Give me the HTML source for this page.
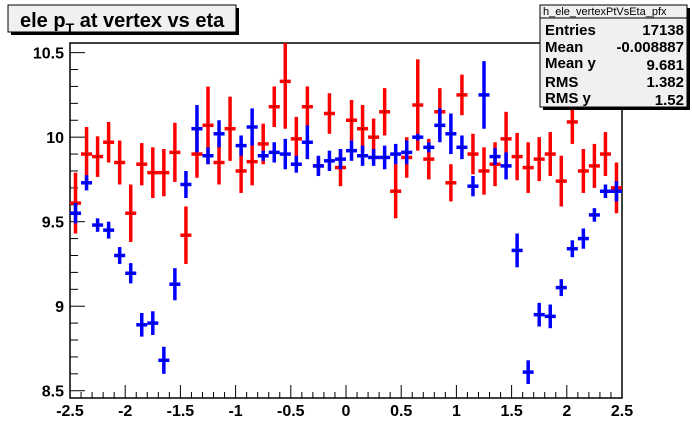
<!DOCTYPE html>
<html><head><meta charset="utf-8"><style>
html,body{margin:0;padding:0;background:#fff;}
svg{display:block;font-family:"Liberation Sans",Arial,sans-serif;}
</style></head><body>
<svg id="c" width="692" height="444" viewBox="0 0 692 444">
  <rect x="0" y="0" width="692" height="444" fill="#ffffff"/>
  <g>
    <rect x="11" y="8" width="228" height="27" fill="#000"/>
    <rect x="8" y="5" width="228" height="27" fill="#f0f0f0" stroke="#000" stroke-width="1"/>
    <text x="20" y="27" font-size="20" font-weight="bold">ele p<tspan font-size="14" dy="6">T</tspan><tspan dy="-6"> at vertex vs eta</tspan></text>
  </g>
  <g id="plot"></g>
  <g>
    <rect x="543" y="8" width="147" height="102" fill="#000"/>
    <rect x="540" y="5" width="147" height="102" fill="#f0f0f0" stroke="#000" stroke-width="1"/>
    <line x1="540" y1="18" x2="687" y2="18" stroke="#000"/>
    <text x="543" y="15" font-size="11">h_ele_vertexPtVsEta_pfx</text>
    <g font-size="15" font-weight="bold">
      <text x="545" y="35">Entries</text><text x="684" y="35" text-anchor="end">17138</text>
      <text x="545" y="52">Mean</text><text x="684" y="52" text-anchor="end">-0.008887</text>
      <text x="545" y="68">Mean y</text><text x="684" y="70" text-anchor="end">9.681</text>
      <text x="545" y="87">RMS</text><text x="684" y="87" text-anchor="end">1.382</text>
      <text x="545" y="103">RMS y</text><text x="684" y="105" text-anchor="end">1.52</text>
    </g>
  </g>
</svg>
<script>
const etaCenters = [-2.45,-2.35,-2.25,-2.15,-2.05,-1.95,-1.85,-1.75,-1.65,-1.55,-1.45,-1.35,-1.25,-1.15,-1.05,-0.95,-0.85,-0.75,-0.65,-0.55,-0.45,-0.35,-0.25,-0.15,-0.05,0.05,0.15,0.25,0.35,0.45,0.55,0.65,0.75,0.85,0.95,1.05,1.15,1.25,1.35,1.45,1.55,1.65,1.75,1.85,1.95,2.05,2.15,2.25,2.35,2.45];
const redValues = [9.61,9.90,9.885,9.97,9.85,9.55,9.84,9.79,9.79,9.91,9.42,9.90,10.07,9.85,10.05,9.80,9.855,9.96,10.18,10.33,9.99,10.18,9.83,10.14,9.82,10.10,10.05,10.00,10.15,9.68,9.88,10.19,9.87,10.15,9.73,10.25,9.90,9.80,9.84,9.99,9.885,9.82,9.87,9.90,9.74,10.09,9.80,9.83,9.90,9.70];
const redErrors = [0.18,0.16,0.12,0.12,0.13,0.17,0.125,0.15,0.14,0.175,0.17,0.14,0.23,0.13,0.19,0.13,0.14,0.12,0.12,0.28,0.13,0.12,0.05,0.12,0.11,0.12,0.14,0.11,0.14,0.16,0.12,0.27,0.12,0.14,0.11,0.12,0.12,0.14,0.13,0.16,0.14,0.15,0.13,0.13,0.15,0.13,0.13,0.13,0.13,0.15];
const blueValues = [9.55,9.73,9.48,9.45,9.30,9.195,8.89,8.90,8.68,9.13,9.72,10.05,9.89,10.02,null,9.95,10.06,9.89,9.91,9.90,9.84,9.97,9.83,9.86,9.87,9.92,9.89,9.88,9.88,9.90,9.91,10.00,9.94,10.07,10.02,9.94,9.71,10.25,9.885,9.83,9.33,8.61,8.95,8.94,9.11,9.34,9.40,9.54,9.68,9.68];
const blueErrors = [0.06,0.045,0.04,0.05,0.05,0.06,0.07,0.07,0.08,0.095,0.08,0.14,0.05,0.08,0,0.06,0.11,0.03,0.06,0.09,0.05,0.1,0.06,0.06,0.06,0.06,0.06,0.05,0.07,0.06,0.07,0.02,0.03,0.1,0.12,0.07,0.06,0.2,0.05,0.08,0.1,0.07,0.07,0.07,0.05,0.05,0.06,0.04,0.04,0.06];
const xTickLabels = ["-2.5","-2","-1.5","-1","-0.5","0","0.5","1","1.5","2","2.5"];
const yTickLabels = ["8.5","9","9.5","10","10.5"];

const X0=70,X1=622,Y0=398,Y1=43, XMIN=-2.5,XMAX=2.5, YMIN=8.457, YMAX=10.557;
const binWidth=0.1;
function xs(v){return X0+(v-XMIN)/(XMAX-XMIN)*(X1-X0);}
function ys(v){return Y0-(v-YMIN)/(YMAX-YMIN)*(Y0-Y1);}
const NS="http://www.w3.org/2000/svg";
const plot=document.getElementById('plot');
function mk(tag,attrs,parent){const e=document.createElementNS(NS,tag);for(const k in attrs)e.setAttribute(k,attrs[k]);(parent||plot).appendChild(e);return e;}

const frame=mk('rect',{x:X0,y:Y1,width:X1-X0,height:Y0-Y1,fill:'#fff',stroke:'#000','stroke-width':1.5});



const axes=mk('g',{stroke:'#000','stroke-width':1});


for(let v=-2.5;v<=2.5001;v+=0.1){
  const major=Math.abs(v*2-Math.round(v*2))<1e-6;
  const x=xs(v);
  mk('line',{x1:x,y1:Y0,x2:x,y2:Y0-(major?13:6)},axes);
}
for(let v=8.5;v<=10.5001;v+=0.1){
  const major=Math.abs(v*2-Math.round(v*2))<1e-6;
  const y=ys(v);
  mk('line',{x1:X0,y1:y,x2:X0+(major?15:8),y2:y},axes);
}
xTickLabels.forEach(function(t){
  const tx=mk('text',{x:xs(parseFloat(t)),y:416,'text-anchor':'middle','font-size':16,'font-weight':'bold'});
  tx.textContent=t;
  
  
});
yTickLabels.forEach(function(t){
  const tx=mk('text',{x:64,y:ys(parseFloat(t))+6,'text-anchor':'end','font-size':16,'font-weight':'bold'});
  tx.textContent=t;
  
  
});

function drawSeries(vals,errs,color,name){
  const g=mk('g',{stroke:color,'stroke-width':3.5});
  
  
  etaCenters.forEach(function(c,i){
    const v=vals[i]; if(v===null||v===undefined) return;
    const e=errs[i]||0;
    const pg=mk('g',{},g);
    
    
    const x=xs(c), y=ys(v);
    mk('line',{x1:xs(c-binWidth/2),y1:y,x2:xs(c+binWidth/2),y2:y},pg);
    mk('line',{x1:x,y1:Math.max(Y1,ys(v+e)),x2:x,y2:Math.min(Y0,ys(v-e))},pg);
    mk('rect',{x:x-0.5,y:y-0.5,width:1,height:1,fill:'#000',stroke:'none'},pg);
  });
}
drawSeries(redValues,redErrors,'#ff0000','red-series');
drawSeries(blueValues,blueErrors,'#0000ff','blue-series');
</script>
</body></html>
